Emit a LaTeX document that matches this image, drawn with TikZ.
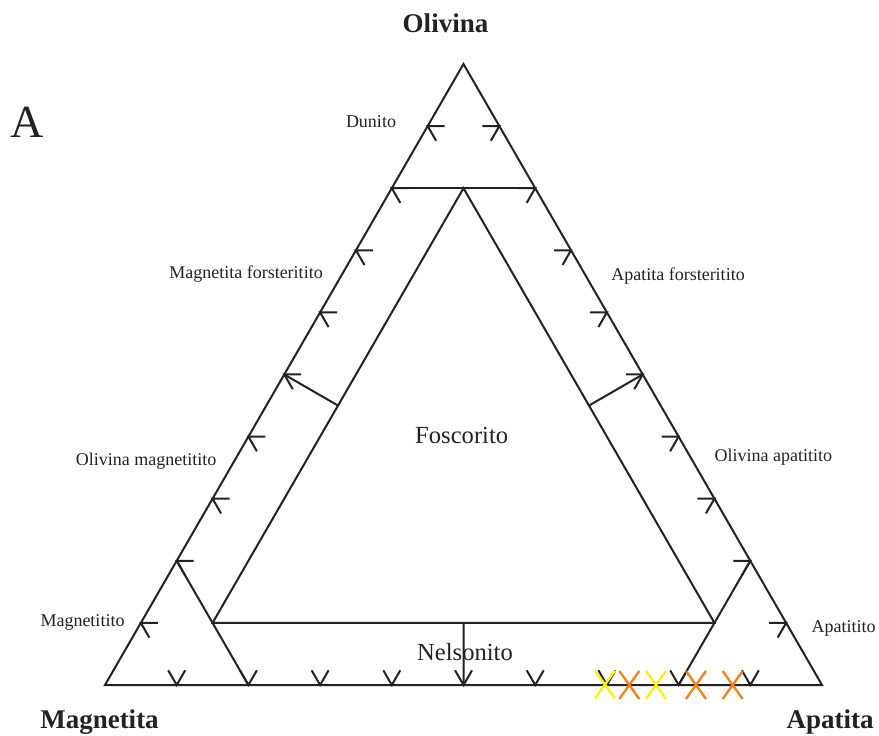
\documentclass[tikz,border=0pt]{standalone}
\usepackage{fontspec}
\setmainfont{Liberation Serif}
\usetikzlibrary{calc}
\definecolor{ink}{HTML}{222222}
\definecolor{xyellow}{HTML}{F6F01A}
\definecolor{xorange}{HTML}{F0841E}
\tikzset{
  ln/.style={draw=ink, line width=2pt},
  tickmark/.pic={\draw[ln] (-14.7pt,8.5pt) -- (0,0) -- (-14.7pt,-8.5pt);},
  xmark/.pic={\draw[line width=2.4pt] (-10pt,-14pt) -- (10pt,14pt) (-10pt,14pt) -- (10pt,-14pt);},
  small/.style={font=\fontsize{18}{20}\selectfont, text=ink, anchor=base, inner sep=0pt},
  mid/.style={font=\fontsize{24.6}{27}\selectfont, text=ink, anchor=base, inner sep=0pt},
  corner/.style={font=\bfseries\fontsize{27}{30}\selectfont, text=ink, anchor=base, inner sep=0pt},
  panel/.style={font=\fontsize{46}{50}\selectfont, text=ink, anchor=base, inner sep=0pt}
}
\begin{document}
\begin{tikzpicture}[x=1pt,y=-1pt]
\useasboundingbox (0,0) rectangle (879,736);
% outer vertices
\coordinate (T) at (463.5,64);
\coordinate (L) at (105,685);
\coordinate (R) at (822,685);
% key points
\coordinate (L2) at ($(L)!0.2!(T)$);
\coordinate (L5) at ($(L)!0.5!(T)$);
\coordinate (L8) at ($(L)!0.8!(T)$);
\coordinate (R2) at ($(R)!0.2!(T)$);
\coordinate (R5) at ($(R)!0.5!(T)$);
\coordinate (R8) at ($(R)!0.8!(T)$);
\coordinate (B2) at ($(L)!0.2!(R)$);
\coordinate (B5) at ($(L)!0.5!(R)$);
\coordinate (B8) at ($(L)!0.8!(R)$);
\coordinate (I) at ($(L8)!0.5!(R8)$);
\coordinate (IL) at ($(L2)!0.5!(B2)$);
\coordinate (IR) at ($(R2)!0.5!(B8)$);
\coordinate (IB) at ($(IL)!0.5!(IR)$);
\coordinate (ILm) at ($(I)!0.5!(IL)$);
\coordinate (IRm) at ($(I)!0.5!(IR)$);
% outer triangle
\draw[ln, line join=miter] (L) -- (R) -- (T) -- cycle;
% field boundaries
\draw[ln] (L8) -- (R8);
\draw[ln] (I) -- (IL) -- (IR) -- cycle;
\draw[ln] (L2) -- (B2);
\draw[ln] (R2) -- (B8);
\draw[ln] (IB) -- (B5);
\draw[ln] (ILm) -- (L5);
\draw[ln] (IRm) -- (R5);
% ticks every 10 %
\foreach \k in {1,...,9} {
  \pic[rotate=150] at ($(L)!0.1*\k!(T)$) {tickmark};
  \pic[rotate=30] at ($(R)!0.1*\k!(T)$) {tickmark};
  \pic[rotate=-90] at ($(L)!0.1*\k!(R)$) {tickmark};
}
% coloured crosses
\pic[draw=xyellow] at (605,684.5) {xmark};
\pic[draw=xorange] at (629.3,685) {xmark};
\pic[draw=xyellow] at (656,685) {xmark};
\pic[draw=xorange] at (696,685) {xmark};
\pic[draw=xorange] at (732.7,685) {xmark};
% labels
\node[corner] (olv) at (445.5,32) {Olivina};
\node[corner] (mag) at (99.5,728) {Magnetita};
\node[corner] (apa) at (830,728) {Apatita};
\node[panel] (pA) at (27.5,137) {A};
\node[small] (dun) at (371,127) {Dunito};
\node[small] (mfo) at (246,278) {Magnetita forsteritito};
\node[small] (afo) at (678,280) {Apatita forsteritito};
\node[small] (omg) at (146,465) {Olivina magnetitito};
\node[small] (oap) at (773.3,461.7) {Olivina apatitito};
\node[small] (mgt) at (82.5,626.7) {Magnetitito};
\node[small] (apt) at (843.7,632.3) {Apatitito};
\node[mid] (fos) at (461.7,443.3) {Foscorito};
\node[mid] (nel) at (465,660) {Nelsonito};
\end{tikzpicture}
\end{document}
